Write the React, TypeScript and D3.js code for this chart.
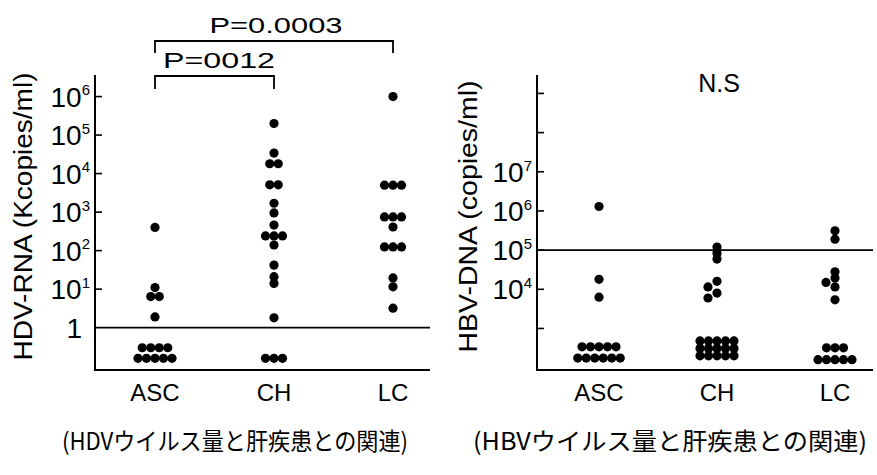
import React from 'react';
import * as d3 from 'd3';

// categories shared by both panels
const categories = ['ASC', 'CH', 'LC'];

// HDV-RNA (Kcopies/ml); values under 1 are the points below the cut-off line
const hdvAsc = [400, 11, 6.4, 6.4, 1.9, 0.3, 0.3, 0.3, 0.3, 0.16, 0.16, 0.16, 0.16, 0.16];
const hdvCh = [2e5, 3.4e4, 1.8e4, 1.8e4, 5100, 5100, 1700, 950, 460, 240, 240, 240, 140, 42, 21, 14, 1.8, 0.16, 0.16, 0.16];
const hdvLc = [1e6, 5000, 5000, 5000, 750, 750, 750, 410, 125, 125, 125, 19.5, 11.5, 3.2];

// HBV-DNA (copies/ml), right panel
const hbvAsc = [1.3e6, 1.8e4, 6300, 340, 340, 340, 340, 340, 176, 176, 176, 176, 176, 176];
const hbvCh = [1.2e5, 8.4e4, 5.9e4, 1.6e4, 1.15e4, 8000, 6000, 480, 480, 480, 480, 480, 310, 310, 310, 310, 310, 200, 200, 200, 200, 200];
const hbvLc = [3.1e5, 1.9e5, 2.8e4, 1.95e4, 1.5e4, 1.15e4, 5400, 320, 320, 320, 160, 160, 160, 160, 160];

// axis ticks (exponents) and which of them carry a label
const hdvTicks = [1, 2, 3, 4, 5, 6];
const hdvLabels = [0, 1, 2, 3, 4, 5, 6];
const hbvTicks = [3, 4, 5, 6, 7, 8, 9];
const hbvLabels = [4, 5, 6, 7];

const hdvCutoff = 1;
const hbvCutoff = 1e5;

const pLabels = ['P=0.0003', 'P=0012'];
const hbvNote = 'N.S';
const captions = ['(HDVウイルス量と肝疾患との関連)', '(HBVウイルス量と肝疾患との関連)'];

const FONT = '"Liberation Sans", Arial, Helvetica, sans-serif';
const JP = '"Noto Sans CJK JP", "Noto Sans CJK SC", sans-serif';
const R = 4.6;

// simple dot-plot layout: equal values form a centred row, single dots dodge sideways
function placeDots(values, y, cx) {
  const rows = d3.groups(values, (v) => v).sort((a, b) => b[0] - a[0]);
  const placed = [];
  for (const [v, arr] of rows) {
    const py = y(v);
    if (arr.length > 1) {
      arr.forEach((_, i) => placed.push({ x: cx + (i - (arr.length - 1) / 2) * 8.5, y: py }));
    } else {
      for (const k of [0, -1, 1, -2, 2]) {
        const px = cx + k * 9;
        if (placed.every((p) => Math.hypot(p.x - px, p.y - py) >= 6)) {
          placed.push({ x: px, y: py });
          break;
        }
      }
    }
  }
  return placed;
}

const PowLabel = ({ x, y, exp }) =>
  exp === 0 ? (
    <text x={x - 13} y={y} dy="0.36em" textAnchor="end" fontSize={28}>1</text>
  ) : (
    <text x={x - 5} y={y} dy="0.36em" textAnchor="end" fontSize={28}>
      10<tspan fontSize={15} dy="-0.75em">{exp}</tspan>
    </text>
  );

const Panel = ({ x0, x1, yScale, xScale, groups, ticks, labels, cutoff, title, titleX, titleLen }) => {
  const [yBottom, yTop] = yScale.range();
  return (
    <g>
      {/* axes */}
      <line x1={x0} x2={x0} y1={yTop} y2={yBottom + 1} stroke="#000" strokeWidth={2} />
      <line x1={x0 - 1} x2={x1} y1={yBottom} y2={yBottom} stroke="#000" strokeWidth={2} />
      {ticks.map((e) => (
        <line key={e} x1={x0} x2={x0 + 7} y1={yScale(10 ** e)} y2={yScale(10 ** e)} stroke="#000" strokeWidth={1.6} />
      ))}
      {labels.map((e) => (
        <PowLabel key={e} x={x0} y={yScale(10 ** e)} exp={e} />
      ))}
      {/* cut-off line */}
      <line x1={x0} x2={x1} y1={yScale(cutoff)} y2={yScale(cutoff)} stroke="#000" strokeWidth={1.8} />
      {categories.map((c, i) => (
        <g key={c}>
          <text x={xScale(c)} y={401} textAnchor="middle" fontSize={24}>{c}</text>
          {placeDots(groups[i], yScale, xScale(c)).map((p, j) => (
            <circle key={j} cx={p.x} cy={p.y} r={R} fill="#000" />
          ))}
        </g>
      ))}
      <text
        transform={`translate(${titleX},${(yTop + yBottom) / 2 - 6}) rotate(-90)`}
        textAnchor="middle"
        dy="0.36em"
        fontSize={26}
        textLength={titleLen}
        lengthAdjust="spacingAndGlyphs"
      >
        {title}
      </text>
    </g>
  );
};

export default function App() {
  const yHdv = d3.scaleLog().domain([10 ** -1.1, 10 ** 6.56]).range([370, 75]);
  const yHbv = d3.scaleLog().domain([10 ** 1.94, 10 ** 9.47]).range([370, 75]);
  const xHdv = d3.scalePoint().domain(categories).range([155, 393]);
  const xHbv = d3.scalePoint().domain(categories).range([599, 835]);

  const bracket = (xa, xb, y, leg) => `M${xa},${y + leg}V${y}H${xb}V${y + leg}`;

  return (
    <svg
      width={877}
      height={475}
      style={{ position: 'absolute', left: 0, top: 0, background: '#fff' }}
      fontFamily={FONT}
    >
      <Panel
        x0={95}
        x1={430}
        yScale={yHdv}
        xScale={xHdv}
        groups={[hdvAsc, hdvCh, hdvLc]}
        ticks={hdvTicks}
        labels={hdvLabels}
        cutoff={hdvCutoff}
        title="HDV-RNA  (Kcopies/ml)"
        titleX={23}
        titleLen={288}
      />
      <Panel
        x0={537}
        x1={873}
        yScale={yHbv}
        xScale={xHbv}
        groups={[hbvAsc, hbvCh, hbvLc]}
        ticks={hbvTicks}
        labels={hbvLabels}
        cutoff={hbvCutoff}
        title="HBV-DNA  (copies/ml)"
        titleX={468}
        titleLen={272}
      />

      {/* significance brackets */}
      <path d={bracket(xHdv('ASC'), xHdv('LC'), 41, 12)} fill="none" stroke="#000" strokeWidth={1.8} />
      <path d={bracket(xHdv('ASC'), xHdv('CH'), 76, 13)} fill="none" stroke="#000" strokeWidth={1.8} />
      <text x={276} y={33} textAnchor="middle" fontSize={22} textLength={133} lengthAdjust="spacingAndGlyphs">
        {pLabels[0]}
      </text>
      <text x={219} y={68} textAnchor="middle" fontSize={22} textLength={112} lengthAdjust="spacingAndGlyphs">
        {pLabels[1]}
      </text>
      <text x={719} y={92} textAnchor="middle" fontSize={25}>{hbvNote}</text>

      <text x={235} y={450} textAnchor="middle" fontSize={24} fontFamily={JP} textLength={346} lengthAdjust="spacingAndGlyphs">
        {captions[0]}
      </text>
      <text x={670} y={450} textAnchor="middle" fontSize={24} fontFamily={JP} textLength={394} lengthAdjust="spacingAndGlyphs">
        {captions[1]}
      </text>
    </svg>
  );
}
